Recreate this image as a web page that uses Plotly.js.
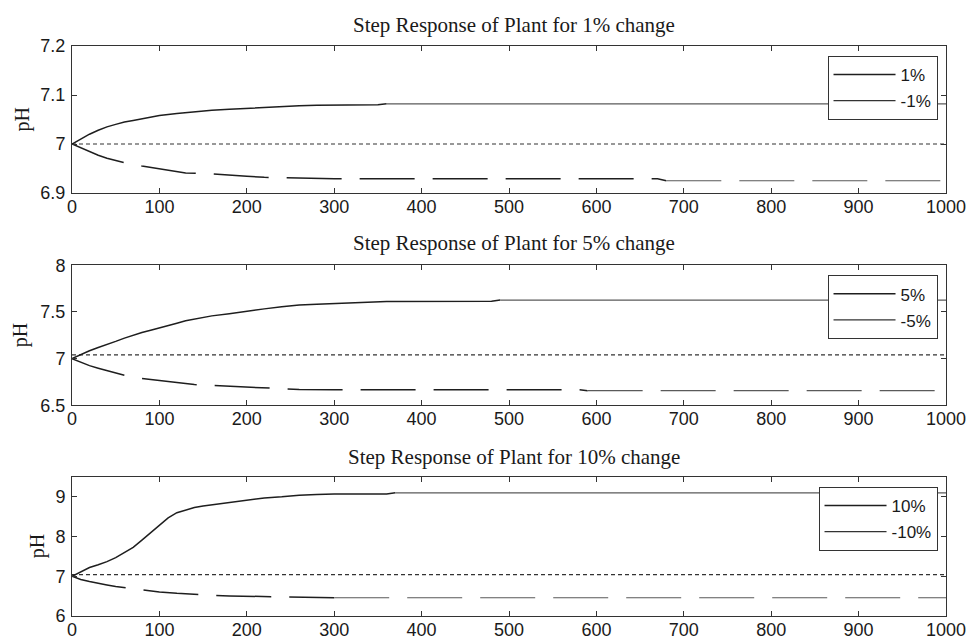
<!DOCTYPE html>
<html>
<head>
<meta charset="utf-8">
<script src="https://cdn.plot.ly/plotly-3.0.1.min.js"></script>
<style>html,body{margin:0;padding:0;background:#fff;}#chart{width:969px;height:638px;}</style>
</head>
<body>
<div id="chart"></div>
<script>
// ---- Data ----
var titles = ["Step Response of Plant for 1% change", "Step Response of Plant for 5% change", "Step Response of Plant for 10% change"];
var legendNames = [["1%", "-1%"], ["5%", "-5%"], ["10%", "-10%"]];
var setpoints = [7.0, 7.04, 7.04];

var t1p = [0,10,20,30,40,50,60,70,80,90,100,120,140,160,180,200,220,240,260,280,300,320,340,350,360,1000];
var p1  = [7.000,7.010,7.020,7.028,7.035,7.040,7.045,7.048,7.051,7.055,7.058,7.062,7.066,7.069,7.071,7.073,7.075,7.077,7.078,7.079,7.079,7.080,7.080,7.080,7.082,7.082];
var t1n = [0,10,20,30,40,50,60,80,100,130,160,180,200,220,260,300,400,500,600,670,680,1000];
var n1  = [7.000,6.992,6.984,6.977,6.971,6.966,6.962,6.955,6.949,6.941,6.939,6.936,6.934,6.932,6.930,6.929,6.929,6.929,6.929,6.929,6.925,6.925];

var t2p = [0,10,20,30,40,50,60,70,80,90,100,110,120,130,140,150,160,180,200,220,240,260,280,300,320,340,360,480,490,1000];
var p2  = [7.000,7.045,7.085,7.120,7.150,7.185,7.220,7.253,7.280,7.305,7.328,7.350,7.380,7.405,7.425,7.445,7.458,7.482,7.510,7.533,7.555,7.575,7.582,7.588,7.598,7.606,7.612,7.614,7.627,7.627];
var t2n = [0,10,20,30,40,50,60,80,100,120,140,160,180,200,220,240,260,300,400,500,580,590,1000];
var n2  = [7.000,6.960,6.925,6.898,6.870,6.842,6.822,6.787,6.766,6.738,6.722,6.713,6.705,6.698,6.686,6.676,6.670,6.667,6.667,6.667,6.667,6.657,6.657];

var t3p = [0,10,20,30,40,50,60,70,80,90,100,110,120,130,140,150,160,180,200,220,240,260,280,300,340,360,370,1000];
var p3  = [7.00,7.12,7.22,7.29,7.37,7.47,7.59,7.73,7.91,8.10,8.30,8.47,8.60,8.67,8.73,8.77,8.80,8.86,8.92,8.97,9.00,9.04,9.06,9.07,9.07,9.07,9.10,9.10];
var t3n = [0,10,20,30,40,50,60,80,100,120,140,160,180,200,220,260,300,1000];
var n3  = [7.00,6.92,6.87,6.82,6.78,6.74,6.71,6.65,6.605,6.57,6.54,6.52,6.505,6.50,6.49,6.47,6.46,6.46];

var yTicks = [[6.9,7,7.1,7.2],[6.5,7,7.5,8],[6,7,8,9]];
var yRanges = [[6.9,7.2],[6.5,8],[6,9.5]];
var xTickVals = [0,100,200,300,400,500,600,700,800,900,1000];

// ---- Styling (not data) ----
var darkUntilPos = [360, 490, 370];
var darkUntilNeg = [680, 590, 300];
var DARK = '#1e1e1e', GRAY = '#5a5a5a';

var series = [[t1p,p1,t1n,n1],[t2p,p2,t2n,n2],[t3p,p3,t3n,n3]];

function split(t, v, brk) {
  var a = {x:[], y:[]}, b = {x:[], y:[]};
  for (var i = 0; i < t.length; i++) {
    if (t[i] <= brk) { a.x.push(t[i]); a.y.push(v[i]); }
    if (t[i] >= brk) { b.x.push(t[i]); b.y.push(v[i]); }
  }
  return [a, b];
}

var traces = [];
for (var k = 0; k < 3; k++) {
  var ax = k === 0 ? '' : String(k + 1);
  var xa = 'x' + ax, ya = 'y' + ax, lg = 'legend' + ax;
  var s = series[k];
  traces.push({x:[0,1000], y:[setpoints[k], setpoints[k]], xaxis:xa, yaxis:ya, mode:'lines',
    line:{color:'#333', width:1.2, dash:'4px,3px'}, showlegend:false, hoverinfo:'skip'});
  var ps = split(s[0], s[1], darkUntilPos[k]);
  traces.push({x:ps[0].x, y:ps[0].y, xaxis:xa, yaxis:ya, mode:'lines', name:legendNames[k][0],
    legend:lg, legendgroup:'a'+k, line:{color:DARK, width:1.5}, showlegend:true});
  traces.push({x:ps[1].x, y:ps[1].y, xaxis:xa, yaxis:ya, mode:'lines',
    line:{color:GRAY, width:1.2}, showlegend:false, legendgroup:'a'+k});
  var ns = split(s[2], s[3], darkUntilNeg[k]);
  traces.push({x:ns[0].x, y:ns[0].y, xaxis:xa, yaxis:ya, mode:'lines',
    line:{color:DARK, width:1.5, dash:'55px,18px'}, showlegend:false});
  traces.push({x:ns[1].x, y:ns[1].y, xaxis:xa, yaxis:ya, mode:'lines',
    line:{color:GRAY, width:1.2, dash:'55px,18px'}, showlegend:false});
  traces.push({x:[null], y:[null], xaxis:xa, yaxis:ya, mode:'lines', name:legendNames[k][1],
    legend:lg, legendgroup:'b'+k, line:{color:'#333', width:1.2}, showlegend:true});
}

var tickFont = {family:'Liberation Sans, Arial, sans-serif', size:18, color:'#1a1a1a'};
var domains = [[0.7421, 1], [0.3696, 0.6153], [0, 0.2439]];
var legendTops = [0.9825, 0.5977, 0.2263];

var layout = {
  width:969, height:638,
  margin:{l:72, r:22.5, t:45.7, b:22.3},
  paper_bgcolor:'#fff', plot_bgcolor:'#fff',
  showlegend:true,
  annotations:[]
};

for (var k = 0; k < 3; k++) {
  var ax = k === 0 ? '' : String(k + 1);
  layout['xaxis' + ax] = {
    domain:[0,1], anchor:'y' + ax, range:[0,1000], tickvals:xTickVals,
    ticks:'inside', ticklen:5, tickcolor:'#333', showline:true, linecolor:'#333', linewidth:1,
    mirror:'ticks', showgrid:false, zeroline:false, tickfont:tickFont, ticklabelstandoff:-3
  };
  layout['yaxis' + ax] = {
    domain:domains[k], anchor:'x' + ax, range:yRanges[k], tickvals:yTicks[k],
    ticktext:yTicks[k].map(function(v){return String(v);}),
    ticks:'inside', ticklen:5, tickcolor:'#333', showline:true, linecolor:'#333', linewidth:1,
    mirror:'ticks', showgrid:false, zeroline:false, tickfont:tickFont, ticklabelstandoff:2
  };
  layout['legend' + ax] = {
    x:0.9903, xanchor:'right', y:legendTops[k], yanchor:'top',
    bgcolor:'#fff', bordercolor:'#333', borderwidth:1,
    font:{family:'Liberation Sans, Arial, sans-serif', size:17, color:'#1a1a1a'},
    itemwidth:62, traceorder:'grouped', tracegroupgap:1
  };
}

var titleY = [1.0363, 0.6539, 0.2789];
var pHx = [23, 20, 37];
var pHy = [0.871, 0.4925, 0.1222];
for (var k = 0; k < 3; k++) {
  layout.annotations.push({
    text:titles[k], xref:'paper', yref:'paper', x:0.5054, y:titleY[k],
    xanchor:'center', yanchor:'middle', showarrow:false,
    font:{family:'Liberation Serif, Times New Roman, serif', size:21, color:'#1a1a1a'}
  });
  layout.annotations.push({
    text:'pH', xref:'paper', yref:'paper', x:(pHx[k] - 72) / 874.5, y:pHy[k],
    xanchor:'center', yanchor:'middle', showarrow:false, textangle:-90,
    font:{family:'Liberation Serif, Times New Roman, serif', size:20, color:'#1a1a1a'}
  });
}

Plotly.newPlot('chart', traces, layout, {staticPlot:true, displayModeBar:false});
</script>
</body>
</html>
